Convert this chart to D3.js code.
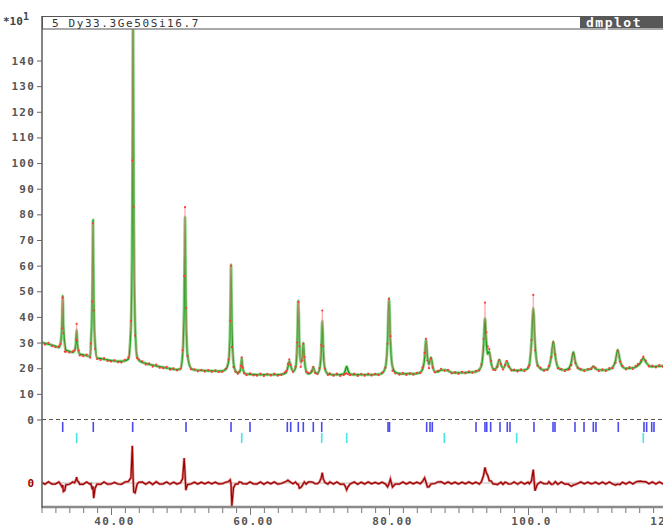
<!DOCTYPE html>
<html>
<head>
<meta charset="utf-8">
<script src="https://cdn.jsdelivr.net/npm/d3@7"></script>
<style>
body{margin:0;background:#fff;}
text{font-family:"DejaVu Sans Mono",monospace;}
</style>
</head>
<body>
<div id="chart"></div>
<script>
// 2-theta (deg), calculated and observed counts (x10)
const tth=[
 30.0,30.5,31.0,31.5,32.0,32.5,32.75,32.95,33.05,33.15,
 33.35,33.5,34.0,34.5,34.75,34.95,35.06,35.15,35.35,35.5,
 36.0,36.5,37.0,37.11,37.31,37.41,37.51,37.71,38.0,38.5,
 39.0,39.5,40.0,40.5,41.0,41.5,42.0,42.5,42.87,43.07,
 43.17,43.27,43.47,43.75,44.0,44.5,45.0,45.5,46.0,46.5,
 47.0,47.5,48.0,48.5,49.0,49.5,50.0,50.3,50.53,50.65,
 50.77,51.0,51.5,52.0,52.5,53.0,53.5,54.0,54.5,55.0,
 55.5,56.0,56.5,56.92,57.15,57.27,57.39,57.62,57.9,58.25,
 58.46,58.69,58.81,58.93,59.16,59.5,60.0,60.5,61.0,61.5,
 62.0,62.5,63.0,63.5,64.0,64.5,65.0,65.2,65.45,65.65,
 65.85,66.2,66.55,66.8,66.95,67.1,67.3,67.52,67.67,67.82,
 68.07,68.4,68.85,69.11,69.37,69.7,70.0,70.25,70.4,70.55,
 70.8,71.2,71.5,72.0,72.5,73.0,73.5,73.7,73.91,74.12,
 74.4,75.0,75.5,76.0,76.5,77.0,77.5,78.0,78.5,79.0,
 79.5,79.8,80.0,80.2,80.5,80.9,81.5,82.0,82.5,83.0,
 83.5,84.0,84.5,84.82,85.12,85.32,85.52,85.75,86.04,86.3,
 86.6,87.0,87.5,88.0,88.5,89.0,89.5,90.0,90.5,91.0,
 91.5,92.0,92.5,93.0,93.3,93.6,93.81,94.0,94.2,94.43,
 94.7,95.0,95.3,95.62,95.87,96.12,96.4,96.7,96.94,97.2,
 97.6,98.0,98.5,99.0,99.5,100.0,100.2,100.5,100.76,101.0,
 101.35,101.8,102.3,102.8,103.0,103.36,103.64,103.92,104.3,104.8,
 105.3,105.8,106.0,106.25,106.52,106.8,107.15,107.6,108.1,108.6,
 109.1,109.4,109.7,110.2,110.7,111.2,111.7,112.2,112.6,112.91,
 113.22,113.6,114.1,114.6,115.1,115.5,115.8,116.25,116.59,116.94,
 117.4,117.9,118.4,118.9,119.4,120.0
];
const yCalc=[
 30.0,29.7,29.4,29.0,28.6,28.1,29.9,37.0,48.3,36.9,
 29.4,27.1,26.6,26.2,26.9,30.0,35.0,29.9,26.5,25.5,
 25.2,24.9,24.6,29.9,48.5,77.8,48.4,29.5,24.0,23.75,
 23.5,23.25,23.0,22.85,22.7,22.7,22.9,23.6,36.5,86.5,
 165.0,86.5,36.5,24.5,23.2,22.3,21.9,21.5,21.2,20.9,
 20.6,20.35,20.1,19.85,19.6,19.5,19.7,25.4,46.2,79.0,
 46.2,25.4,20.0,19.3,19.2,19.1,19.05,19.0,18.95,18.9,
 18.85,18.9,19.5,22.8,37.3,60.3,37.2,22.4,19.0,18.2,
 18.4,20.6,24.0,20.6,18.3,17.7,17.6,17.55,17.5,17.5,
 17.5,17.5,17.5,17.5,17.5,17.6,18.0,18.3,20.5,22.8,
 21.0,18.8,20.2,30.5,46.3,30.5,22.3,24.0,29.8,24.0,
 19.0,17.8,18.5,20.3,18.4,18.0,19.6,27.0,38.5,27.0,
 19.6,17.8,17.6,17.5,17.5,17.5,17.8,19.0,20.7,19.0,
 17.7,17.5,17.5,17.5,17.5,17.5,17.5,17.55,17.6,18.0,
 20.6,31.0,47.3,31.0,20.6,18.4,17.9,17.8,17.8,17.8,
 17.8,17.9,18.4,19.6,24.0,31.1,24.5,21.5,24.2,20.5,
 18.6,18.6,19.3,19.3,19.0,18.3,18.2,18.2,18.25,18.3,
 18.4,18.5,18.65,19.5,21.0,28.6,39.5,30.0,25.5,26.6,
 22.0,19.8,19.6,21.2,23.3,21.3,20.0,21.0,22.7,21.0,
 19.4,19.1,19.15,19.2,19.3,20.0,21.5,30.2,43.4,30.0,
 21.5,19.8,19.3,19.6,20.4,24.8,30.4,24.8,20.4,19.4,
 19.3,19.8,20.5,22.5,26.3,22.6,20.3,19.4,19.25,19.4,
 19.9,20.7,19.9,19.3,19.25,19.3,19.6,20.4,23.0,27.2,
 23.2,20.6,19.9,20.0,20.1,20.5,21.0,22.4,24.0,22.5,
 21.0,20.6,20.7,20.8,20.9,21.0
];
const yObs=[
 30.3,29.2,29.9,28.6,28.2,28.5,29.4,35.5,47.5,33.6,
 26.5,26.4,26.1,26.6,27.0,31.2,37.3,30.8,26.9,25.0,
 24.7,25.3,24.1,29.6,46.0,76.5,42.5,27.5,23.6,23.2,
 23.9,22.8,22.6,23.1,22.3,22.2,23.3,24.2,38.5,101.0,
 168.0,83.0,32.7,24.0,23.5,22.7,21.4,21.9,20.6,21.4,
 20.2,20.0,20.5,19.4,19.9,19.1,19.8,27.0,55.9,82.8,
 43.4,24.8,19.6,19.6,18.8,19.4,18.7,19.3,18.6,19.2,
 18.5,18.6,19.8,23.4,38.5,60.0,28.2,20.5,18.6,17.8,
 18.8,20.9,24.2,20.3,18.0,17.3,18.0,17.2,17.1,17.9,
 17.0,17.8,17.2,17.9,17.1,17.4,18.4,18.9,21.6,23.5,
 21.3,18.5,20.6,30.0,45.8,28.5,20.5,23.0,29.5,24.4,
 18.6,18.2,18.9,20.5,18.1,17.7,20.0,29.0,42.5,28.5,
 19.8,17.4,18.0,17.1,17.9,17.0,17.4,17.8,18.0,17.6,
 17.3,17.9,17.0,17.8,17.1,17.9,17.2,17.8,17.3,18.3,
 20.2,29.5,47.0,32.5,19.0,18.0,17.5,18.2,17.4,18.1,
 17.5,18.2,18.1,20.2,26.0,31.5,23.0,20.0,23.8,20.2,
 18.4,19.0,19.8,19.0,19.4,18.0,18.5,17.8,18.6,18.0,
 18.8,18.2,19.0,19.1,21.5,31.5,45.6,34.0,28.5,27.5,
 22.8,19.4,19.2,20.6,23.2,21.6,19.5,21.3,22.8,20.6,
 19.1,19.5,18.7,19.6,18.9,20.3,21.2,31.0,48.6,27.0,
 21.0,20.2,19.0,19.3,20.9,24.3,30.0,25.3,19.9,19.8,
 18.9,19.4,19.6,21.2,25.5,22.0,20.1,19.8,18.9,19.7,
 19.6,20.6,20.2,18.9,19.6,18.9,20.0,20.0,22.2,26.8,
 22.6,20.9,19.5,20.4,19.7,20.9,21.6,23.1,24.5,23.0,
 20.7,21.0,20.3,21.2,20.6,21.3
];
// reflection positions, phase 1 (blue) and phase 2 (cyan)
const reflPhase1=[33.05,37.45,43.12,50.79,57.27,60.0,65.37,65.86,66.95,67.67,69.11,70.32,
 79.86,80.07,85.42,85.9,86.23,92.52,93.81,94.06,94.63,95.97,97.02,97.41,100.86,103.6,103.88,
 106.76,108.06,109.4,109.78,112.99,116.69,117.07,117.8,118.13];
const reflPhase2=[35.06,58.81,70.32,73.91,87.96,98.37,116.59];

const yTicks=[0,10,20,30,40,50,60,70,80,90,100,110,120,130,140];
const xMinorTicks=d3.range(30,121,2);
const xLabelTicks=[40,60,80,100,120];
const title='5 Dy33.3Ge50Si16.7';

const W=663,H=525;
const svg=d3.select('#chart').append('svg').attr('width',W).attr('height',H);

const x=d3.scaleLinear().domain([30,120]).range([41.5,667]);
const y=d3.scaleLinear().domain([0,140]).range([419.5,60.5]);
const pxPerUnit=(419.5-60.5)/140;
// difference curve, same vertical scale, zero at 483
const yd=d3.scaleLinear().domain([0,10]).range([483,483-10*pxPerUnit]);

svg.append('clipPath').attr('id','plotclip')
 .append('rect').attr('x',42).attr('y',29.5).attr('width',640).attr('height',478);

const pts=tth.map(function(t,i){return {t:t,c:yCalc[i],o:yObs[i]};});

const plot=svg.append('g').attr('clip-path','url(#plotclip)');

// zero line of main pattern
plot.append('line').attr('x1',42).attr('x2',670).attr('y1',y(0)).attr('y2',y(0))
 .attr('stroke','#555').attr('stroke-dasharray','4,3');

// reflection markers
plot.selectAll('.r1').data(reflPhase1).enter().append('line')
 .attr('x1',function(d){return x(d);}).attr('x2',function(d){return x(d);})
 .attr('y1',422).attr('y2',432).attr('stroke','#4a4af0').attr('stroke-width',1.6);
plot.selectAll('.r2').data(reflPhase2).enter().append('line')
 .attr('x1',function(d){return x(d);}).attr('x2',function(d){return x(d);})
 .attr('y1',433).attr('y2',443).attr('stroke','#44e6e6').attr('stroke-width',1.6);

// calculated profile
const calcLine=d3.line().x(function(d){return x(d.t);}).y(function(d){return y(d.c);})
 .curve(d3.curveMonotoneX);
plot.append('path').datum(pts).attr('d',calcLine).attr('fill','none')
 .attr('stroke','#8fd68f').attr('stroke-width',3);
plot.append('path').datum(pts).attr('d',calcLine).attr('fill','none')
 .attr('stroke','#0a9a0a').attr('stroke-width',1.2);

// observed points
const obsLine=d3.line().x(function(d){return x(d.t);}).y(function(d){return y(d.o);});
plot.append('path').datum(pts).attr('d',obsLine).attr('fill','none')
 .attr('stroke','#ff8c8c').attr('stroke-width',0.8).attr('opacity',0.7);
plot.selectAll('.obs').data(pts).enter().append('circle')
 .attr('cx',function(d){return x(d.t);}).attr('cy',function(d){return y(d.o);})
 .attr('r',1.1).attr('fill','#ff3a3a');

// difference curve
plot.append('line').attr('x1',42).attr('x2',670).attr('y1',yd(0)).attr('y2',yd(0))
 .attr('stroke','#bbb').attr('stroke-width',1);
const diffLine=d3.line().x(function(d){return x(d.t);}).y(function(d){return yd(d.o-d.c);});
plot.append('path').datum(pts).attr('d',diffLine).attr('fill','none')
 .attr('stroke','#d88a8a').attr('stroke-width',2.6);
plot.append('path').datum(pts).attr('d',diffLine).attr('fill','none')
 .attr('stroke','#a00000').attr('stroke-width',1.2);

// y axis
const yaxis=svg.append('g').attr('transform','translate(42,0)')
 .call(d3.axisLeft(y).tickValues(yTicks).tickSize(5).tickPadding(2).tickFormat(d3.format('d')));
yaxis.select('.domain').remove();
yaxis.selectAll('line').attr('stroke','#666');
yaxis.selectAll('text').attr('fill','#555').attr('font-weight','bold')
 .attr('font-size','11px').attr('letter-spacing','1.2').attr('font-family','"DejaVu Sans Mono",monospace');

// difference zero label
svg.append('text').attr('x',34).attr('y',yd(0)).attr('dy','0.36em').attr('text-anchor','end')
 .attr('fill','#a00000').attr('font-weight','bold').attr('font-size','11px').text('0');

// x axis
const xaxis=svg.append('g').attr('transform','translate(0,507)')
 .call(d3.axisBottom(x).tickValues(xMinorTicks).tickSize(6).tickFormat(''));
xaxis.select('.domain').remove();
xaxis.selectAll('line').attr('stroke','#777');
const xlab=svg.append('g').attr('transform','translate(0,507)')
 .call(d3.axisBottom(x).tickValues(xLabelTicks).tickSize(8).tickPadding(2).tickFormat(d3.format('.4r')));
xlab.select('.domain').remove();
xlab.selectAll('line').attr('stroke','#777');
xlab.selectAll('text').attr('fill','#555').attr('font-weight','bold').attr('dx',3)
 .attr('font-size','11px').attr('letter-spacing','1.5').attr('font-family','"DejaVu Sans Mono",monospace');

// frame lines
svg.append('line').attr('x1',42).attr('x2',670).attr('y1',507).attr('y2',507)
 .attr('stroke','#8a8a8a').attr('stroke-width',2.5);
svg.append('line').attr('x1',42).attr('x2',42).attr('y1',16).attr('y2',508)
 .attr('stroke','#666').attr('stroke-width',1.6);

// title bar
svg.append('rect').attr('x',42.5).attr('y',16.5).attr('width',630).attr('height',12.5)
 .attr('fill','#fff').attr('stroke','#555').attr('stroke-width',1);
svg.append('text').attr('x',52).attr('y',26.5).attr('fill','#333')
 .attr('font-size','11px').attr('letter-spacing','1.6').text(title);
svg.append('rect').attr('x',580).attr('y',16).attr('width',90).attr('height',12).attr('fill','#585858');
svg.append('text').attr('x',586).attr('y',26.5).attr('fill','#fff').attr('font-weight','bold')
 .attr('font-size','13px').attr('letter-spacing','1.5').text('dmplot');

// scale factor
const sf=svg.append('text').attr('x',3).attr('y',25).attr('fill','#444')
 .attr('font-weight','bold').attr('font-size','11px');
sf.append('tspan').text('*10');
sf.append('tspan').attr('dy',-5).attr('font-size','10px').text('1');
</script>
</body>
</html>
